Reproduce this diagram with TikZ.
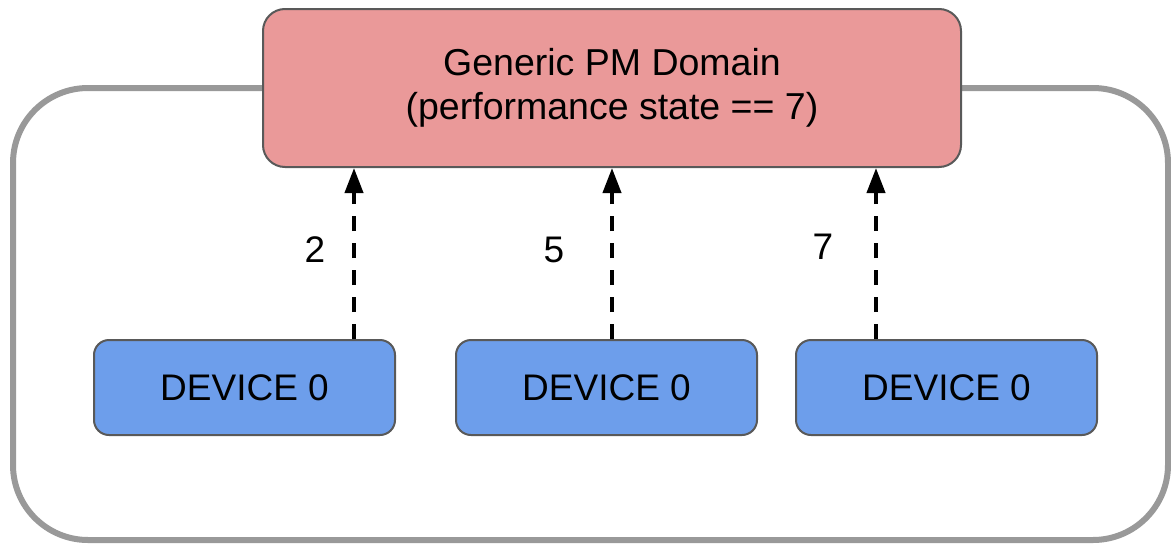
\documentclass[tikz,border=0pt]{standalone}
\usepackage{fontspec}
\setmainfont{Liberation Sans}
\usetikzlibrary{arrows.meta}
\definecolor{pmfill}{HTML}{EA9999}
\definecolor{devfill}{HTML}{6D9EEB}
\definecolor{edge}{HTML}{595959}
\definecolor{frame}{HTML}{999999}
\tikzset{
  pmbox/.style={draw=edge, line width=2pt, fill=pmfill, rounded corners=22pt, minimum width=698pt, minimum height=158pt, inner sep=0pt, align=center, font=\fontsize{37.5}{44}\selectfont},
  devbox/.style={draw=edge, line width=2pt, fill=devfill, rounded corners=15pt, minimum width=301pt, minimum height=95pt, inner sep=0pt, font=\fontsize{37}{44}\selectfont},
  dep/.style={-{Triangle[width=18pt,length=25pt]}, line width=4pt, dash pattern=on 15pt off 12pt, black},
  lbl/.style={font=\fontsize{37}{44}\selectfont, inner sep=0pt},
  outer/.style={draw=frame, line width=6pt, rounded corners=75pt}
}
\begin{document}
\begin{tikzpicture}[x=1pt,y=-1pt]
\useasboundingbox (0,0) rectangle (1171,544);
\fill[white] (0,0) rectangle (1171,544);
\draw[outer] (13,88) rectangle (1168,540);
\node[pmbox] (pm) at (612,88) {Generic PM Domain\\(performance state == 7)};
\node[devbox] (d1) at (244.5,387.5) {DEVICE 0};
\node[devbox] (d2) at (606.5,387.5) {DEVICE 0};
\node[devbox] (d3) at (946.5,387.5) {DEVICE 0};
\coordinate (c1) at (354,0);
\coordinate (c2) at (612,0);
\coordinate (c3) at (876,0);
\draw[dep] (d1.north -| c1) -- (pm.south -| c1);
\draw[dep] (d2.north -| c2) -- (pm.south -| c2);
\draw[dep] (d3.north -| c3) -- (pm.south -| c3);
\node[lbl] (l1) at (315,250) {2};
\node[lbl] (l2) at (554,250) {5};
\node[lbl] (l3) at (823,247) {7};
\end{tikzpicture}
\end{document}
